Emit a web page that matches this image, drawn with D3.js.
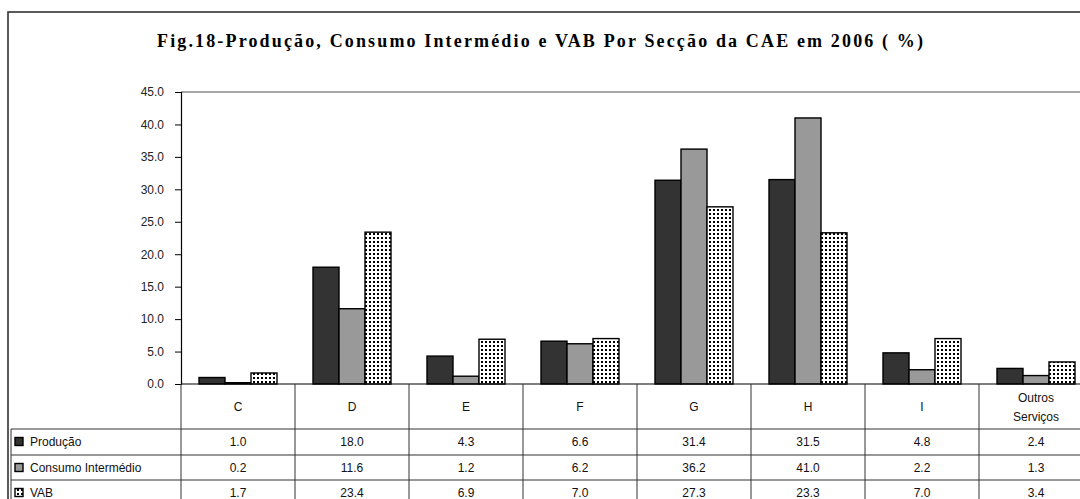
<!DOCTYPE html>
<html>
<head>
<meta charset="utf-8">
<script src="https://cdn.jsdelivr.net/npm/d3@7"></script>
<style>
  html, body { margin: 0; padding: 0; background: #fff; }
  svg { display: block; }
</style>
</head>
<body>
<svg id="chart" width="1080" height="499"></svg>
<script>
// Data
const categories = ['C', 'D', 'E', 'F', 'G', 'H', 'I', 'Outros Serviços'];
const seriesNames = ['Produção', 'Consumo Intermédio', 'VAB'];
const producao = [1.0, 18.0, 4.3, 6.6, 31.4, 31.5, 4.8, 2.4];
const consumo = [0.2, 11.6, 1.2, 6.2, 36.2, 41.0, 2.2, 1.3];
const vab = [1.7, 23.4, 6.9, 7.0, 27.3, 23.3, 7.0, 3.4];
const yTicks = [0, 5, 10, 15, 20, 25, 30, 35, 40, 45];
const title = 'Fig.18-Produção, Consumo Intermédio e VAB Por Secção da CAE em 2006 ( %)';

const seriesValues = [producao, consumo, vab];
const seriesFill = ['#333333', '#999999', 'url(#dots)'];

const svg = d3.select('#chart');
const font = '"Liberation Sans", Arial, sans-serif';

// dotted pattern for VAB
const defs = svg.append('defs');
const pat = defs.append('pattern')
  .attr('id', 'dots')
  .attr('patternUnits', 'userSpaceOnUse')
  .attr('width', 4)
  .attr('height', 4);
pat.append('rect').attr('width', 4).attr('height', 4).attr('fill', '#fff');
pat.append('rect').attr('x', 1).attr('y', 1).attr('width', 2).attr('height', 2).attr('fill', '#000');

// outer chart border (runs off the right/bottom of the picture)
svg.append('rect')
  .attr('x', 8).attr('y', 12)
  .attr('width', 1200).attr('height', 600)
  .attr('fill', 'none')
  .attr('stroke', '#333')
  .attr('stroke-width', 1.6);

// title
svg.append('text')
  .attr('x', 157)
  .attr('y', 47)
  .attr('textLength', 766)
  .attr('lengthAdjust', 'spacing')
  .style('font-family', '"Liberation Serif", "Times New Roman", serif')
  .style('font-weight', 'bold')
  .style('font-size', '18px')
  .style('fill', '#000')
  .text(title);

// scales
const plotTop = 92, plotBottom = 384, plotLeft = 181;
const step = 114;
const x = d3.scaleBand()
  .domain(categories)
  .range([plotLeft, plotLeft + step * categories.length]);
const x1 = d3.scaleBand()
  .domain(seriesNames)
  .range([18, 96]);
const y = d3.scaleLinear()
  .domain([0, 45])
  .range([plotBottom, plotTop]);

// top gridline (45)
svg.append('line')
  .attr('x1', plotLeft).attr('x2', 1080)
  .attr('y1', y(45)).attr('y2', y(45))
  .attr('stroke', '#888')
  .attr('stroke-width', 1.5);

// y axis
const yAxis = svg.append('g')
  .attr('transform', `translate(${plotLeft},0)`)
  .call(d3.axisLeft(y).tickValues(yTicks).tickFormat(d3.format('.1f')).tickSize(6).tickPadding(11));
yAxis.select('.domain').attr('stroke', '#000').attr('stroke-width', 1.2);
yAxis.selectAll('line').attr('stroke', '#000');
yAxis.selectAll('text')
  .style('font-family', font)
  .style('font-size', '12px')
  .style('fill', '#222');

// bars
seriesNames.forEach((name, si) => {
  svg.append('g')
    .selectAll('rect')
    .data(categories.map((c, i) => ({ cat: c, value: seriesValues[si][i] })))
    .join('rect')
    .attr('x', d => x(d.cat) + x1(name))
    .attr('y', d => y(d.value))
    .attr('width', x1.bandwidth())
    .attr('height', d => y(0) - y(d.value))
    .attr('fill', seriesFill[si])
    .attr('stroke', '#000')
    .attr('stroke-width', 1.4);
});

// x axis line
svg.append('line')
  .attr('x1', plotLeft).attr('x2', 1080)
  .attr('y1', plotBottom).attr('y2', plotBottom)
  .attr('stroke', '#000')
  .attr('stroke-width', 1.2);

// data table
const rowTop = [429, 455, 480];
const rowH = 25;
const tableLeft = 11;
const lineColor = '#333';

// column separators (from axis down)
categories.forEach(c => {
  svg.append('line')
    .attr('x1', x(c)).attr('x2', x(c))
    .attr('y1', plotBottom).attr('y2', 499)
    .attr('stroke', lineColor)
    .attr('stroke-width', 1);
});
// legend column left border
svg.append('line')
  .attr('x1', tableLeft).attr('x2', tableLeft)
  .attr('y1', rowTop[0]).attr('y2', 499)
  .attr('stroke', lineColor)
  .attr('stroke-width', 1);
// row separators
rowTop.forEach(r => {
  svg.append('line')
    .attr('x1', tableLeft).attr('x2', 1080)
    .attr('y1', r).attr('y2', r)
    .attr('stroke', lineColor)
    .attr('stroke-width', 1);
});

// category header labels
categories.forEach(c => {
  const cx = x(c) + x.bandwidth() / 2;
  const words = c === 'Outros Serviços' ? ['Outros', 'Serviços'] : [c];
  const t = svg.append('text')
    .attr('text-anchor', 'middle')
    .style('font-family', font)
    .style('font-size', '12px')
    .style('fill', '#111');
  if (words.length === 1) {
    t.append('tspan').attr('x', cx).attr('y', 411).text(words[0]);
  } else {
    t.append('tspan').attr('x', cx).attr('y', 402).text(words[0]);
    t.append('tspan').attr('x', cx).attr('y', 421).text(words[1]);
  }
});

// legend keys + series names + values
seriesNames.forEach((name, si) => {
  const mid = rowTop[si] + rowH / 2;
  svg.append('rect')
    .attr('x', 15).attr('y', mid - 4)
    .attr('width', 8).attr('height', 8)
    .attr('fill', seriesFill[si])
    .attr('stroke', '#000')
    .attr('stroke-width', 1.4);
  svg.append('text')
    .attr('x', 30).attr('y', mid + 4)
    .style('font-family', font)
    .style('font-size', '12px')
    .style('fill', '#111')
    .text(name);
  svg.append('g')
    .selectAll('text')
    .data(seriesValues[si])
    .join('text')
    .attr('x', (d, i) => x(categories[i]) + x.bandwidth() / 2)
    .attr('y', mid + 4)
    .attr('text-anchor', 'middle')
    .style('font-family', font)
    .style('font-size', '12px')
    .style('fill', '#111')
    .text(d => d3.format('.1f')(d));
});
</script>
</body>
</html>
